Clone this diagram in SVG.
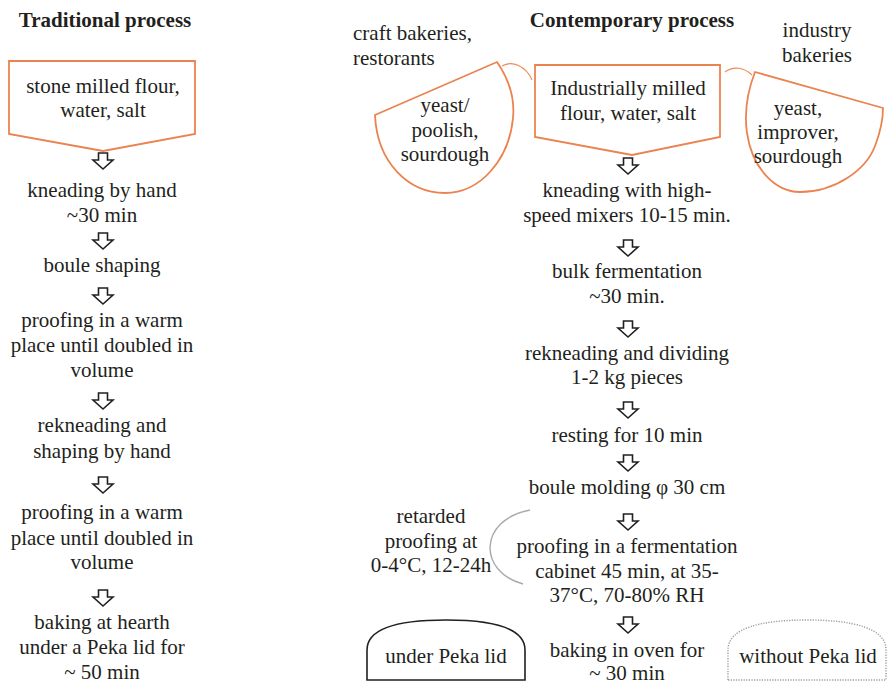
<svg xmlns="http://www.w3.org/2000/svg" xmlns:xlink="http://www.w3.org/1999/xlink" width="889" height="685" viewBox="0 0 889 685">
<style>
text{font-family:"Liberation Serif","Times New Roman",serif;font-size:21px;fill:#231f20;text-anchor:middle}
.title{font-weight:bold}
.left{text-anchor:start}
.orange{fill:#fff;stroke:#eb8350;stroke-width:1.8;stroke-linejoin:miter}
.thin{fill:none;stroke:#eb8a55;stroke-width:1.1}
.arr{fill:#fff;stroke:#231f20;stroke-width:1.6;stroke-linejoin:miter}
.lid{fill:#fff;stroke:#231f20;stroke-width:1.6}
.lid2{fill:#fff;stroke:#9a9a9a;stroke-width:1.4;stroke-dasharray:1.2 1.4}
.gray{fill:none;stroke:#aaa;stroke-width:1.4}
</style>
<defs>
<path id="a" d="M-4.5,0 H4.5 V7 H10 L0,16 L-10,7 H-4.5 Z"/>
</defs>
<rect width="889" height="685" fill="#fff"/>

<g id="titles">
<text class="title" x="105" y="27">Traditional process</text>
<text class="title" x="632" y="27">Contemporary process</text>
</g>

<!-- Traditional column -->
<g id="t0">
<path class="orange" d="M9,61 H195 V134 L103,151 L9,134 Z"/>
<text x="103" y="93">stone milled flour,</text>
<text x="103" y="117">water, salt</text>
</g>
<g id="t1"><text x="102" y="197">kneading by hand</text><text x="102" y="222">~30 min</text></g>
<g id="t2"><text x="102" y="272">boule shaping</text></g>
<g id="t3"><text x="102" y="327">proofing in a warm</text><text x="102" y="352">place until doubled in</text><text x="102" y="377">volume</text></g>
<g id="t4"><text x="102" y="432">rekneading and</text><text x="102" y="458">shaping by hand</text></g>
<g id="t5"><text x="102" y="519">proofing in a warm</text><text x="102" y="545">place until doubled in</text><text x="102" y="569">volume</text></g>
<g id="t6"><text x="102" y="629">baking at hearth</text><text x="102" y="654">under a Peka lid for</text><text x="102" y="679">~ 50 min</text></g>

<!-- Contemporary column -->
<g id="craft">
<text class="left" x="353" y="40">craft bakeries,</text>
<text class="left" x="353" y="65">restorants</text>
</g>
<g id="industry">
<text x="817" y="37">industry</text>
<text x="817" y="62">bakeries</text>
</g>
<g id="yeast1">
<path class="orange" d="M375,115 L497,62 C508,78 515,98 513,118 C509,160 480,193 445,193 C408,193 377,162 375,115 Z"/>
<text x="445" y="112">yeast/</text>
<text x="445" y="137">poolish,</text>
<text x="445" y="161">sourdough</text>
</g>
<g id="yeast2">
<path class="orange" d="M883,108 L755,72 C748,90 744,112 747,133 C752,168 775,192 800,192 C835,192 866,170 875,146 C880,133 883,120 883,108 Z"/>
<text x="798" y="115">yeast,</text>
<text x="798" y="139">improver,</text>
<text x="798" y="163">sourdough</text>
</g>
<g id="c0">
<path class="orange" d="M535,65 H720 V137 L632,155 L535,137 Z"/>
<text x="628" y="95">Industrially milled</text>
<text x="628" y="120">flour, water, salt</text>
</g>
<g id="c1"><text x="627" y="197">kneading with high-</text><text x="627" y="222">speed mixers 10-15 min.</text></g>
<g id="c2"><text x="627" y="278">bulk fermentation</text><text x="627" y="303">~30 min.</text></g>
<g id="c3"><text x="627" y="360">rekneading and dividing</text><text x="627" y="384">1-2 kg pieces</text></g>
<g id="c4"><text x="627" y="442">resting for 10 min</text></g>
<g id="c5"><text x="627" y="494">boule molding φ 30 cm</text></g>
<g id="c6"><text x="627" y="553">proofing in a fermentation</text><text x="627" y="578">cabinet 45 min, at 35-</text><text x="627" y="602">37°C, 70-80% RH</text></g>
<g id="c7"><text x="627" y="657">baking in oven for</text><text x="627" y="680">~ 30 min</text></g>
<g id="retarded">
<text x="431" y="523">retarded</text>
<text x="431" y="548">proofing at</text>
<text x="431" y="572">0-4°C, 12-24h</text>
</g>
<g id="underlid">
<path class="lid" d="M367,680 V650 C367,628 400,620 446,620 C492,620 525,628 525,650 V680 Z"/>
<text x="446" y="663">under Peka lid</text>
</g>
<g id="withoutlid">
<path class="lid2" d="M728,680 V650 C728,628 761,620 807,620 C853,620 886,628 886,650 V680 Z"/>
<text x="808" y="663">without Peka lid</text>
</g>

<g id="connectors">
<path class="thin" d="M502,66 C512,60 526,66 532,80"/>
<path class="thin" d="M725,72 C733,66 744,67 752,75"/>
<path class="gray" d="M530,510 C478,520 478,572 523,584"/>
<use class="arr" href="#a" xlink:href="#a" x="103" y="153"/>
<use class="arr" href="#a" xlink:href="#a" x="103" y="233"/>
<use class="arr" href="#a" xlink:href="#a" x="103" y="288"/>
<use class="arr" href="#a" xlink:href="#a" x="103" y="393"/>
<use class="arr" href="#a" xlink:href="#a" x="103" y="477"/>
<use class="arr" href="#a" xlink:href="#a" x="103" y="590"/>
<use class="arr" href="#a" xlink:href="#a" x="628" y="158"/>
<use class="arr" href="#a" xlink:href="#a" x="628" y="240"/>
<use class="arr" href="#a" xlink:href="#a" x="628" y="321"/>
<use class="arr" href="#a" xlink:href="#a" x="628" y="402"/>
<use class="arr" href="#a" xlink:href="#a" x="628" y="455"/>
<use class="arr" href="#a" xlink:href="#a" x="628" y="514"/>
<use class="arr" href="#a" xlink:href="#a" x="628" y="617"/>
</g>
</svg>
